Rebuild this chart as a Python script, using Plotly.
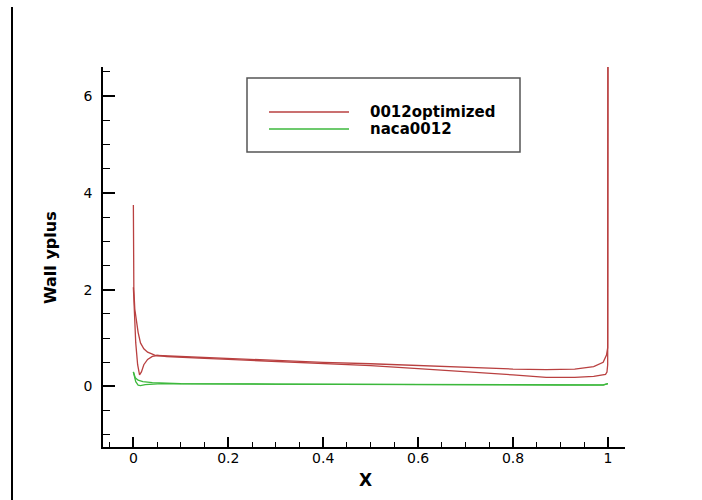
import plotly.graph_objects as go

# ---------------- data ----------------
series_names = ["0012optimized", "naca0012"]
series_colors = ["#b94040", "#3cb83c"]

# 0012optimized, surface A (dips near the leading edge)
opt_a_x = [0, 0.002, 0.005, 0.009, 0.013, 0.017, 0.022, 0.03, 0.04, 0.05, 0.1, 0.15, 0.2, 0.3,
           0.4, 0.5, 0.6, 0.7, 0.8, 0.87, 0.93, 0.97, 0.99, 0.997, 0.9995, 1.0]
opt_a_y = [2.05, 1.5, 0.9, 0.45, 0.24, 0.3, 0.45, 0.56, 0.62, 0.64, 0.62, 0.59, 0.57, 0.53,
           0.5, 0.47, 0.43, 0.39, 0.36, 0.35, 0.36, 0.41, 0.5, 0.65, 0.8, 6.6]
# 0012optimized, surface B (spike at the leading edge)
opt_b_x = [0, 0.001, 0.003, 0.006, 0.01, 0.015, 0.022, 0.03, 0.045, 0.07, 0.1, 0.15, 0.2, 0.3,
           0.4, 0.5, 0.6, 0.7, 0.8, 0.87, 0.93, 0.97, 0.99, 0.995, 0.998, 0.9995, 1.0]
opt_b_y = [3.75, 2.0, 1.6, 1.35, 1.12, 0.9, 0.78, 0.71, 0.65, 0.62, 0.61, 0.58, 0.56, 0.52,
           0.48, 0.43, 0.37, 0.31, 0.24, 0.19, 0.19, 0.21, 0.23, 0.25, 0.3, 0.45, 6.6]
# naca0012, surface A
naca_a_x = [0, 0.002, 0.005, 0.01, 0.015, 0.025, 0.04, 0.06, 0.1, 0.3, 0.5, 0.7, 0.9, 0.99, 1.0]
naca_a_y = [0.3, 0.2, 0.1, 0.03, 0.02, 0.04, 0.05, 0.06, 0.055, 0.045, 0.04, 0.035, 0.03, 0.03, 0.06]
# naca0012, surface B
naca_b_x = [0, 0.001, 0.004, 0.01, 0.02, 0.04, 0.06, 0.1, 0.3, 0.5, 0.7, 0.9, 0.99, 1.0]
naca_b_y = [0.3, 0.25, 0.18, 0.13, 0.1, 0.08, 0.07, 0.06, 0.05, 0.045, 0.04, 0.035, 0.035, 0.06]

x_tickvals = [0, 0.2, 0.4, 0.6, 0.8, 1.0]
x_ticktext = ["0", "0.2", "0.4", "0.6", "0.8", "1"]
y_tickvals = [0, 2, 4, 6]
y_ticktext = ["0", "2", "4", "6"]

# ---------------- figure ----------------
FONT = "DejaVu Sans"
fig = go.Figure()
for xs, ys, col in [(opt_a_x, opt_a_y, series_colors[0]), (opt_b_x, opt_b_y, series_colors[0]),
                    (naca_a_x, naca_a_y, series_colors[1]), (naca_b_x, naca_b_y, series_colors[1])]:
    fig.add_trace(go.Scatter(x=xs, y=ys, mode="lines", line=dict(color=col, width=1.3),
                             showlegend=False, hoverinfo="skip"))

W, H = 702, 500
L, R, T, B = 103, 77, 67, 53
pw, ph = W - L - R, H - T - B


def px(xp):
    return (xp - L) / pw


def py(yp):
    return (H - B - yp) / ph


shapes = []
# legend box
shapes.append(dict(type="rect", xref="paper", yref="paper", x0=px(247), x1=px(520), y0=py(152), y1=py(78),
                   line=dict(color="#555555", width=1.5), fillcolor="white", layer="above"))
annotations = []
for i, (name, col) in enumerate(zip(series_names, series_colors)):
    yy = py(112 + 17 * i)
    shapes.append(dict(type="line", xref="paper", yref="paper", x0=px(269), x1=px(349), y0=yy, y1=yy,
                       line=dict(color=col, width=1.3), layer="above"))
    annotations.append(dict(text=name, xref="paper", yref="paper", x=px(368), y=yy, xanchor="left",
                            yanchor="middle", showarrow=False,
                            font=dict(family=FONT, size=15, color="black", weight="bold")))
# left border line of the screenshot
shapes.append(dict(type="line", xref="paper", yref="paper", x0=px(12), x1=px(12), y0=py(7), y1=py(500),
                   line=dict(color="black", width=2)))

annotations.append(dict(text="X", xref="paper", yref="paper", x=px(365), y=py(480), xanchor="center",
                        yanchor="middle", showarrow=False,
                        font=dict(family=FONT, size=17, color="black", weight="bold")))
annotations.append(dict(text="Wall yplus", xref="paper", yref="paper", x=px(50), y=py(258), xanchor="center",
                        yanchor="middle", showarrow=False, textangle=-90,
                        font=dict(family=FONT, size=16, color="black", weight="bold")))

axis_common = dict(showline=True, linecolor="black", linewidth=1.5, ticks="inside", tickcolor="black",
                   tickwidth=1.5, showgrid=False, zeroline=False, mirror=False,
                   tickfont=dict(family=FONT, size=14, color="black"))

fig.update_layout(
    width=W, height=H, autosize=False,
    margin=dict(l=L, r=R, t=T, b=B, pad=0),
    paper_bgcolor="white", plot_bgcolor="white",
    xaxis=dict(range=[-0.064, 1.036], tickvals=x_tickvals, ticktext=x_ticktext, ticklen=10,
               ticklabelstandoff=-3,
               minor=dict(ticks="inside", ticklen=5, dtick=0.05, tick0=0, tickcolor="black", tickwidth=1,
                          showgrid=False),
               **axis_common),
    yaxis=dict(range=[-1.25, 6.6], tickvals=y_tickvals, ticktext=y_ticktext, ticklen=12,
               ticklabelstandoff=6,
               minor=dict(ticks="inside", ticklen=7, dtick=0.5, tick0=0, tickcolor="black", tickwidth=1,
                          showgrid=False),
               **axis_common),
    shapes=shapes, annotations=annotations,
    showlegend=False,
)

fig.write_html("out.html")
